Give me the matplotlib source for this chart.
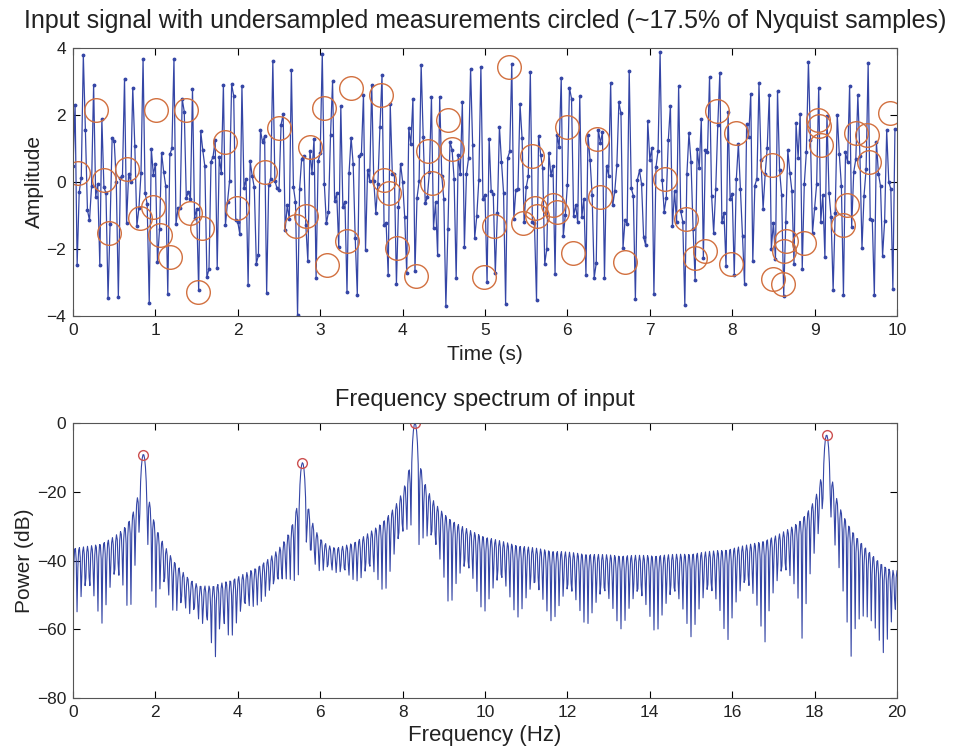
import numpy as np
import matplotlib
matplotlib.use('Agg')
import matplotlib.pyplot as plt

matplotlib.rcParams['font.family'] = ['Liberation Sans', 'DejaVu Sans']

meas_t = [0.065, 0.275, 0.38, 0.44, 0.65, 0.81, 0.975, 1.01, 1.05, 1.18,
          1.37, 1.42, 1.52, 1.57, 1.84, 1.99, 2.33, 2.50, 2.71, 2.83,
          2.88, 3.05, 3.08, 3.33, 3.37, 3.74, 3.77, 3.84, 3.93, 4.16,
          4.31, 4.36, 4.55, 4.60, 4.99, 5.11, 5.29, 5.46, 5.57, 5.61,
          5.63, 5.83, 5.87, 5.99, 6.07, 6.36, 6.40, 6.70, 7.18, 7.44,
          7.55, 7.67, 7.82, 7.99, 8.05, 8.48, 8.50, 8.62, 8.63, 8.65,
          8.87, 9.04, 9.05, 9.08, 9.35, 9.39, 9.50, 9.63, 9.66, 9.91]
meas_y = [0.28, 2.13, 0.06, -1.53, 0.39, -1.08, -0.74, 2.13, -1.58, -2.23,
          2.13, -0.93, -3.27, -1.38, 1.20, -0.79, 0.31, 1.60, -1.33, -1.01,
          1.04, 2.20, -2.48, -1.76, 2.80, 2.60, 0.06, -0.32, -1.98, -2.81,
          0.93, -0.04, 1.85, 0.98, -2.83, -1.31, 3.44, -1.23, 0.78, -0.79,
          -1.03, -0.70, -0.90, 1.63, -2.13, 1.28, -0.46, -2.38, 0.08, -1.11,
          -2.28, -2.05, 2.12, -2.45, 1.47, 0.51, -2.91, -3.04, -2.05, -1.76,
          -1.81, 1.85, 1.67, 1.10, -1.28, -0.69, 1.45, 1.40, 0.58, 2.07]

# tones: frequency (Hz) and peak level (dB)
tone_freqs = [1.70, 5.60, 8.27, 18.30]
tone_db = [-9.0, -11.5, 0.0, -3.5]

fs = 40.0        # Nyquist rate for a 20 Hz band
duration = 10.0

meas_t = np.array(meas_t)
meas_y = np.array(meas_y)
amps = 10 ** (np.array(tone_db) / 20)


def score(s):
    # correlation with the measurements, scale free
    return (s @ meas_y) ** 2 / (s @ s)


# coarse phase grid, amplitudes fixed by the spectrum
ngrid = 16
ph = np.arange(ngrid) * 2 * np.pi / ngrid
C = [amps[k] * np.cos(2 * np.pi * tone_freqs[k] * meas_t[None, :] + ph[:, None])
     for k in range(4)]
S = (C[0][:, None, None, None, :] + C[1][None, :, None, None, :]
     + C[2][None, None, :, None, :] + C[3][None, None, None, :, :])
q = (S @ meas_y) ** 2 / np.einsum('abcdn,abcdn->abcd', S, S)
idx = np.unravel_index(np.argmax(q), q.shape)
phases = [ph[i] for i in idx]
freqs = list(tone_freqs)


def shape(t, freqs, phases):
    return sum(amps[k] * np.cos(2 * np.pi * freqs[k] * t + phases[k]) for k in range(4))


# local refinement of phases and frequencies
for it in range(6):
    for k in range(4):
        best = (-1, phases[k], freqs[k])
        for f in np.arange(tone_freqs[k] - 0.03, tone_freqs[k] + 0.0301, 0.002):
            for p in np.linspace(0, 2 * np.pi, 180, endpoint=False):
                fr_ = list(freqs); fr_[k] = f
                pp = list(phases); pp[k] = p
                v = score(shape(meas_t, fr_, pp))
                if v > best[0]:
                    best = (v, p, f)
        phases[k], freqs[k] = best[1], best[2]

# overall level: match the spread of the circled measurements
s_meas = shape(meas_t, freqs, phases)
gain = np.sqrt(np.mean(meas_y ** 2) / np.mean(s_meas ** 2))
if s_meas @ meas_y < 0:
    gain = -gain

t = np.arange(int(fs * duration)) / fs
signal = gain * shape(t, freqs, phases)

nfft = 2048
spec = np.abs(np.fft.rfft(signal, n=nfft))
fr = np.fft.rfftfreq(nfft, 1 / fs)
power = 20 * np.log10(spec / spec.max())

peak_f = []
peak_p = []
for f in freqs:
    m = np.abs(fr - f) < 0.15
    i = np.argmax(np.where(m, power, -1e9))
    peak_f.append(fr[i])
    peak_p.append(power[i])

blue = '#3546a6'
circ = '#d2703f'
txt = '#222222'

fig = plt.figure(figsize=(9.57, 7.47), dpi=100)
ax1 = fig.add_axes([0.0763, 0.577, 0.861, 0.359])
ax2 = fig.add_axes([0.0763, 0.0656, 0.861, 0.368])

ax1.plot(t, signal, '-', color=blue, lw=0.9, marker='.', ms=3.5)
ax1.plot(meas_t, meas_y, 'o', ms=17, mfc='none', mec=circ, mew=1.0)
ax1.set_xlim(0, 10)
ax1.set_ylim(-4, 4)
ax1.set_xticks(range(0, 11))
ax1.set_yticks([-4, -2, 0, 2, 4])
ax1.set_xlabel('Time (s)', fontsize=15, labelpad=5, color=txt)
ax1.set_ylabel('Amplitude', fontsize=15, labelpad=2, color=txt)
ax1.set_title('Input signal with undersampled measurements circled (~17.5% of Nyquist samples)',
              fontsize=18, pad=14, color=txt)

ax2.plot(fr, power, '-', color=blue, lw=0.8)
ax2.plot(peak_f, peak_p, 'o', ms=7, mfc='none', mec='#cc5050', mew=1.0)
ax2.set_xlim(0, 20)
ax2.set_ylim(-80, 0)
ax2.set_xticks(range(0, 21, 2))
ax2.set_yticks([-80, -60, -40, -20, 0])
ax2.set_xlabel('Frequency (Hz)', fontsize=16, labelpad=4, color=txt)
ax2.set_ylabel('Power (dB)', fontsize=15, labelpad=2, color=txt)
ax2.set_title('Frequency spectrum of input', fontsize=17, pad=12, color=txt)

for ax in (ax1, ax2):
    ax.tick_params(direction='in', top=True, right=True, labelsize=12.5, length=5,
                   labelcolor=txt, pad=5)
    for s in ax.spines.values():
        s.set_linewidth(0.8)
        s.set_color('#555555')

fig.savefig('out.png', dpi=100)
